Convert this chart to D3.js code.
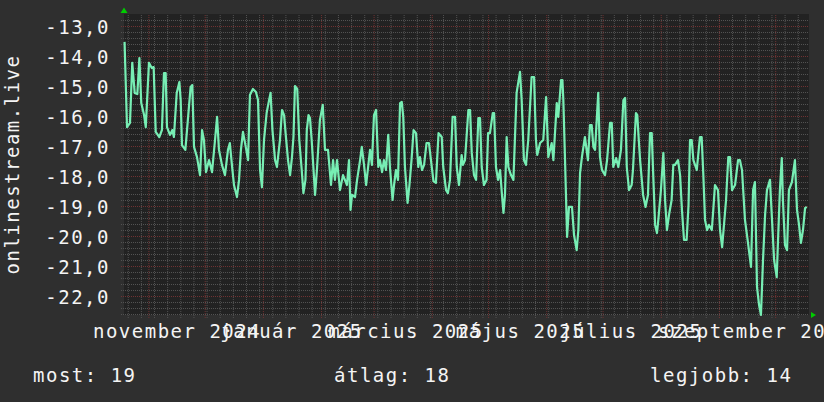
<!DOCTYPE html>
<html>
<head>
<meta charset="utf-8">
<script src="https://cdn.jsdelivr.net/npm/d3@7"></script>
<style>
  html, body { margin: 0; padding: 0; background: #2f2f2f; }
  svg { display: block; }
  text { font-family: "DejaVu Sans Mono", monospace; font-size: 19px; letter-spacing: 1.5px; fill: #f4f4f4; }
</style>
</head>
<body>
<div id="canvas"></div>
<script>
// day offsets from the first day of the graph, and the value on that day
var startDay = "2024-10-19"
var endDay = "2025-10-19"

var days = [0.3, 1.6, 3.2, 4.4, 5.7, 7.1, 8.2, 9.2, 10.7, 11.6, 13.3, 14.8, 15.8, 16.9, 18.8, 20.2, 21.3, 22.2, 22.9, 24.5,
  25.7, 26.6, 28.1, 29.5, 30.2, 30.9, 32.7, 35.5, 36.4, 37.3, 38.9, 40.5, 41.6, 42.6, 43.7, 45.3, 46.9, 48.5, 49.6, 50.6,
  52.2, 53.8, 55.4, 56.4, 57.5, 58.6, 60.2, 61.3, 62.3, 63.4, 65.0, 66.1, 67.1, 68.7, 70.3, 71.4, 72.5, 73.5, 74.6, 76.0,
  77.3, 78.1, 79.1, 80.5, 81.5, 83.1, 84.2, 85.3, 86.1, 87.4, 88.5, 89.5, 90.3, 91.1, 92.3, 93.4, 94.7, 95.6, 96.7, 97.4,
  98.3, 99.1, 100.0, 100.9, 101.8, 102.8, 104.4, 105.9, 107.1, 108.7, 110.3, 111.4, 112.4, 113.5, 115.1, 116.7, 118.8, 119.9, 120.7, 121.5,
  123.1, 124.2, 125.8, 126.7, 127.9, 129.0, 130.2, 131.1, 132.1, 133.2, 134.3, 135.5, 136.4, 137.5, 138.5, 139.6, 140.8, 141.7, 143.1, 143.9,
  144.9, 146.0, 147.1, 148.0, 148.8, 149.7, 151.1, 152.1, 153.2, 154.3, 155.6, 156.8, 157.7, 158.8, 159.9, 161.2, 162.5, 164.0, 164.9, 166.2,
  167.6, 169.3, 170.1, 171.6, 172.6, 173.7, 175.1, 176.4, 177.3, 178.5, 179.9, 180.6, 181.7, 183.5, 184.4, 185.3, 186.5, 187.6, 188.8, 189.7,
  190.6, 191.8, 193.2, 194.0, 195.0, 196.5, 197.2, 198.2, 199.3, 200.4, 201.4, 202.2, 203.0, 203.9, 204.8, 206.2, 207.5, 209.2, 211.0, 211.9,
  213.1, 214.2, 215.4, 217.2, 218.5, 219.5, 220.2, 221.7, 223.4, 224.9, 226.1, 227.9, 228.8, 230.6, 231.4, 232.9, 233.6, 234.1, 235.0, 236.1,
  237.1, 238.7, 239.8, 241.2, 242.1, 243.0, 244.0, 245.6, 247.2, 248.3, 249.2, 250.1, 251.0, 252.7, 253.6, 254.7, 256.3, 257.4, 259.0, 259.9,
  260.7, 262.2, 263.4, 264.8, 266.1, 267.0, 267.9, 269.1, 270.5, 271.2, 272.8, 273.5, 274.4, 275.0, 276.6, 277.9, 279.2, 280.3, 281.2, 282.0,
  283.0, 284.0, 284.7, 286.1, 287.4, 288.3, 289.3, 290.4, 291.8, 292.7, 293.6, 295.2, 296.3, 297.3, 298.4, 299.8, 300.8, 301.6, 302.5, 303.4,
  305.2, 306.9, 307.8, 308.7, 309.6, 310.7, 311.7, 313.2, 314.0, 314.9, 316.5, 317.6, 318.7, 319.7, 320.8, 322.0, 322.9, 324.0, 325.6, 327.2,
  328.2, 329.3, 330.9, 332.5, 334.1, 335.2, 336.2, 337.3, 338.4, 339.4, 340.5, 341.6, 342.6, 344.2, 345.3, 346.4, 347.8, 348.5, 349.5, 350.5,
  351.1, 352.2, 353.3, 354.3, 355.9, 357.5, 358.6, 359.7, 360.7, 361.8, 362.9, 363.8]

var values = [-13.53, -16.37, -16.23, -14.23, -15.23, -15.27, -14.07, -15.57, -15.97, -16.37, -14.23, -14.40, -14.37, -16.53, -16.70, -16.47, -14.57, -14.57, -16.37, -16.63,
  -16.47, -16.70, -15.23, -14.87, -15.47, -16.97, -17.13, -15.03, -14.97, -17.03, -17.37, -17.97, -16.47, -16.80, -17.87, -17.47, -17.87, -16.80, -16.03, -17.13,
  -17.63, -17.97, -17.13, -16.90, -17.63, -18.30, -18.70, -18.13, -17.13, -16.53, -17.07, -17.47, -15.30, -15.10, -15.20, -15.47, -17.80, -18.37, -16.80, -15.90,
  -15.47, -15.23, -16.47, -17.47, -17.70, -16.80, -15.80, -15.97, -16.57, -17.47, -17.97, -17.37, -16.70, -15.00, -15.10, -16.80, -17.80, -18.57, -18.13, -16.47,
  -15.97, -16.07, -16.80, -17.70, -18.63, -17.80, -16.13, -15.63, -17.13, -17.13, -18.30, -17.47, -18.13, -17.47, -18.47, -17.97, -18.30, -17.47, -19.13, -18.63,
  -18.70, -18.13, -17.47, -17.03, -17.63, -18.30, -17.63, -17.13, -17.63, -15.97, -15.80, -17.70, -17.47, -17.87, -17.47, -17.80, -16.63, -17.70, -18.80, -18.30,
  -17.80, -18.13, -15.57, -15.53, -16.03, -17.70, -18.90, -18.30, -17.47, -16.47, -16.57, -17.70, -17.37, -17.80, -17.63, -16.90, -16.90, -17.70, -18.17, -18.23,
  -16.57, -16.70, -17.70, -18.47, -18.57, -18.13, -16.03, -16.03, -17.70, -18.30, -17.30, -17.63, -17.47, -15.80, -15.80, -17.23, -17.97, -18.13, -16.07, -16.07,
  -17.70, -18.30, -18.13, -16.57, -16.57, -15.90, -15.90, -17.70, -18.13, -17.80, -18.63, -19.23, -18.63, -16.70, -17.70, -17.97, -18.13, -15.23, -14.53, -15.47,
  -17.47, -17.63, -16.80, -14.70, -14.70, -16.80, -17.30, -16.90, -16.80, -15.37, -17.37, -16.90, -17.47, -15.57, -16.03, -14.80, -14.80, -15.47, -17.47, -20.03,
  -19.03, -19.03, -19.97, -20.47, -19.80, -17.90, -17.37, -16.70, -17.47, -16.30, -16.30, -17.03, -17.13, -15.23, -17.37, -17.80, -17.97, -17.47, -16.23, -16.23,
  -17.70, -17.40, -17.70, -17.13, -15.47, -15.40, -17.70, -18.47, -18.30, -17.80, -15.90, -15.97, -16.90, -17.47, -18.63, -19.03, -18.63, -16.57, -16.57, -17.97,
  -19.63, -19.90, -19.47, -18.47, -17.23, -18.80, -19.80, -19.30, -18.80, -17.63, -17.63, -17.47, -17.97, -19.13, -20.13, -20.13, -18.97, -16.80, -16.80, -17.47,
  -17.80, -16.70, -16.70, -17.97, -19.47, -19.80, -19.63, -19.80, -19.13, -18.30, -18.47, -19.80, -20.37, -19.63, -18.80, -17.37, -17.37, -18.47, -18.30, -17.47,
  -17.47, -17.80, -19.47, -20.23, -21.03, -18.47, -18.20, -21.70, -22.30, -22.63, -20.80, -19.30, -18.47, -18.13, -19.47, -20.80, -21.37, -20.13, -18.47, -17.40,
  -18.80, -20.30, -20.47, -18.47, -18.20, -17.47, -19.13, -19.63, -20.23, -19.80, -19.07, -19.03]

var yLabelValues = [-22, -21, -20, -19, -18, -17, -16, -15, -14, -13]
var xLabelDays = ["2024-11-16", "2025-01-16", "2025-03-18", "2025-05-18", "2025-07-16", "2025-09-20"]
var xLabels = ["november 2024", "január 2025", "március 2025", "május 2025", "július 2025", "szeptember 2025"]
var yTitle = "onlinestream.live"
var legendLabels = ["most: 19", "átlag: 18", "legjobb: 14"]

var width = 824
var height = 402
var plotLeft = 124, plotRight = 809, plotTop = 14, plotBottom = 315

var parseDay = d3.timeParse("%Y-%m-%d")
var start = parseDay(startDay)

var svg = d3.select("#canvas")
    .append("svg")
    .attr("width", width)
    .attr("height", height)

svg.append("rect").attr("width", width).attr("height", height).attr("fill", "#2f2f2f")
svg.append("rect")
    .attr("x", plotLeft).attr("y", plotTop)
    .attr("width", plotRight - plotLeft).attr("height", plotBottom - plotTop)
    .attr("fill", "#222222")

var xScale = d3.scaleTime().domain([start, parseDay(endDay)]).range([plotLeft, plotRight])
var yScale = d3.scaleLinear().domain([-22.633, -12.6]).range([plotBottom, plotTop])

function dayToDate(d) {
    return d3.timeMinute.offset(start, Math.round(d * 1440))
}

// grids: minor first, then major (red)
function styleGrid(g, color) {
    g.select(".domain").remove()
    g.selectAll("line").attr("stroke", color).attr("stroke-dasharray", "1,1")
    g.selectAll("text").remove()
}

var minorY = d3.range(-226, -126, 2).map(function (d) { return d / 10 })
svg.append("g")
    .attr("transform", `translate(${plotLeft - 3},0)`)
    .call(d3.axisLeft(yScale).tickValues(minorY).tickSize(-(plotRight - plotLeft + 3)))
    .call(styleGrid, "#525252")

svg.append("g")
    .attr("transform", `translate(0,${plotBottom + 3})`)
    .call(d3.axisBottom(xScale).ticks(d3.timeMonday.every(1)).tickSize(-(plotBottom - plotTop + 3)))
    .call(styleGrid, "#525252")

svg.append("g")
    .attr("transform", `translate(${plotLeft - 3},0)`)
    .call(d3.axisLeft(yScale).tickValues(yLabelValues).tickSize(-(plotRight - plotLeft + 3)))
    .call(styleGrid, "#703232")

svg.append("g")
    .attr("transform", `translate(0,${plotBottom + 3})`)
    .call(d3.axisBottom(xScale).ticks(d3.timeMonth.every(1)).tickSize(-(plotBottom - plotTop + 3)))
    .call(styleGrid, "#703232")

// the series
var points = days.map(function (d, i) { return [dayToDate(d), values[i]] })
var line = d3.line()
    .x(function (d) { return xScale(d[0]) })
    .y(function (d) { return yScale(d[1]) })

svg.append("path")
    .datum(points)
    .attr("d", line)
    .attr("fill", "none")
    .attr("stroke", "#77eeb4")
    .attr("stroke-width", 2.2)
    .attr("stroke-linejoin", "round")

// axis labels
var yAxis = svg.append("g")
    .attr("transform", `translate(${plotLeft},0)`)
    .call(d3.axisLeft(yScale).tickValues(yLabelValues).tickSize(0).tickPadding(14)
        .tickFormat(function (d) { return d.toFixed(1).replace(".", ",") }))
yAxis.select(".domain").remove()
yAxis.selectAll("text").attr("dy", "7.3px").attr("font-family", null).attr("font-size", null)

var xAxis = svg.append("g")
    .attr("transform", `translate(0,${plotBottom})`)
    .call(d3.axisBottom(xScale).tickValues(xLabelDays.map(parseDay)).tickSize(0)
        .tickFormat(function (d, i) { return xLabels[i] }))
xAxis.select(".domain").remove()
xAxis.selectAll("text").attr("y", 0).attr("dy", "23px").attr("font-family", null).attr("font-size", null)

// arrows
svg.append("path")
    .attr("d", `M${plotLeft - 3.5},${plotTop - 1}L${plotLeft + 3.5},${plotTop - 1}L${plotLeft},${plotTop - 6.5}Z`)
    .attr("fill", "#00cc00")
svg.append("path")
    .attr("d", `M${plotRight + 2},${plotBottom - 3}L${plotRight + 2},${plotBottom + 3}L${plotRight + 7},${plotBottom}Z`)
    .attr("fill", "#00cc00")

// vertical title
svg.append("text")
    .attr("transform", "translate(18.5,164.5) rotate(-90)")
    .attr("text-anchor", "middle")
    .text(yTitle)

// legend line
var legendX = [33, 334, 650]
svg.selectAll(".legend")
    .data(legendLabels)
    .enter()
    .append("text")
    .attr("class", "legend")
    .attr("x", function (d, i) { return legendX[i] })
    .attr("y", 381.5)
    .text(function (d) { return d })
</script>
</body>
</html>
